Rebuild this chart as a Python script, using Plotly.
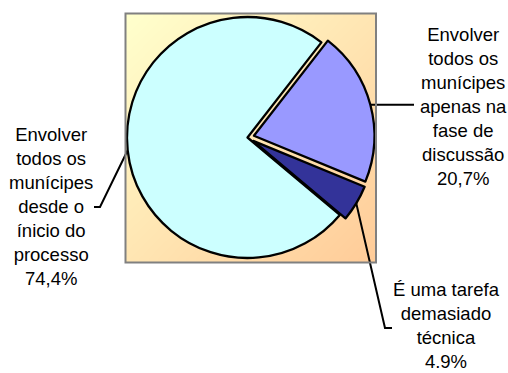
import math
import plotly.graph_objects as go

# ---- data ----
labels = [
    "Envolver<br>todos os<br>munícipes<br>desde o<br>ínicio do<br>processo",
    "Envolver<br>todos os<br>munícipes<br>apenas na<br>fase de<br>discussão",
    "É uma tarefa<br>demasiado<br>técnica",
]
values = [74.4, 20.7, 4.9]
value_text = ["74,4%", "20,7%", "4.9%"]
colors = ["#CCFFFF", "#9999FF", "#333399"]
pulls = [0.0, 0.055, 0.055]

W, H = 508, 373
ROT = 130.0
cx, cy, R = 247.5, 137.5, 120.5
maxpull = max(pulls)
D = 2 * R * (1 + maxpull)

fig = go.Figure()

# background gradient box
nb = 30
bx0, bx1, by0, by1 = 125.5, 376.0, 13.5, 262.5
xe = [bx0 + (bx1 - bx0) * i / nb for i in range(nb + 1)]
ye = [by0 + (by1 - by0) * i / nb for i in range(nb + 1)]
z = [[i + j for j in range(nb)] for i in range(nb)]
fig.add_trace(go.Heatmap(
    x=xe, y=ye, z=z, zsmooth="best", showscale=False, hoverinfo="skip",
    colorscale=[[0, "#FFFFCC"], [1, "#FFCC99"]],
))

# pie
fig.add_trace(go.Pie(
    values=values, labels=[l.replace("<br>", " ") for l in labels],
    sort=False, direction="clockwise", rotation=ROT,
    marker=dict(colors=colors, line=dict(color="black", width=2.3)),
    pull=pulls, textinfo="none", showlegend=False, hoverinfo="skip",
    domain=dict(x=[(cx - D / 2) / W, (cx + D / 2) / W],
                y=[1 - (cy + D / 2) / H, 1 - (cy - D / 2) / H]),
))

# leader lines computed from slice mid-angles
total = sum(values)
start = ROT
elbows = [[(100, 207), (94, 207)], [(414, None)], [(385, 328), (392, 328)]]
label_pos = [(51, 206), (463, 106), (446, 325)]
for k, v in enumerate(values):
    span = 360 * v / total
    mid = math.radians(start + span / 2)
    start += span
    pr = pulls[k] * R
    ex = cx + (R + pr) * math.sin(mid)
    ey = cy - (R + pr) * math.cos(mid)
    xs, ys = [ex], [ey]
    for px, py in elbows[k]:
        xs.append(px)
        ys.append(ey if py is None else py)
    fig.add_trace(go.Scatter(x=xs, y=ys, mode="lines",
                             line=dict(color="black", width=2),
                             hoverinfo="skip", showlegend=False))
    lx, ly = label_pos[k]
    fig.add_annotation(x=lx, y=ly, xref="x", yref="y",
                       text=labels[k] + "<br>" + value_text[k],
                       showarrow=False, xanchor="center", yanchor="middle",
                       align="center",
                       font=dict(family="Liberation Sans, Arial", size=18.5, color="black"))

fig.add_shape(type="rect", xref="x", yref="y", x0=bx0, x1=bx1, y0=by0, y1=by1,
              line=dict(color="#808080", width=2), layer="above")

fig.update_layout(
    width=W, height=H, margin=dict(l=0, r=0, t=0, b=0),
    paper_bgcolor="white", plot_bgcolor="white",
    xaxis=dict(range=[0, W], visible=False, fixedrange=True),
    yaxis=dict(range=[H, 0], visible=False, fixedrange=True),
    showlegend=False,
)

fig.write_html("out.html")
